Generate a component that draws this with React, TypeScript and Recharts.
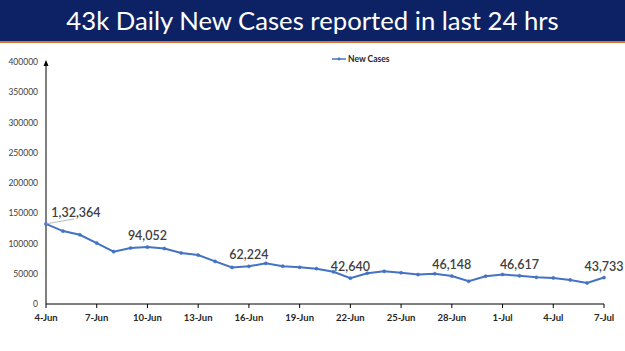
import React from 'react';
import { LineChart, Line, XAxis, YAxis, Legend, LabelList } from 'recharts';

const dates = [
  '4-Jun', '5-Jun', '6-Jun', '7-Jun', '8-Jun', '9-Jun', '10-Jun', '11-Jun', '12-Jun',
  '13-Jun', '14-Jun', '15-Jun', '16-Jun', '17-Jun', '18-Jun', '19-Jun', '20-Jun',
  '21-Jun', '22-Jun', '23-Jun', '24-Jun', '25-Jun', '26-Jun', '27-Jun', '28-Jun',
  '29-Jun', '30-Jun', '1-Jul', '2-Jul', '3-Jul', '4-Jul', '5-Jul', '6-Jul', '7-Jul',
];

const newCases = [
  132364, 120529, 114460, 100636, 86498, 92596, 94052, 91702, 84332,
  80834, 70421, 60471, 62224, 67208, 62480, 60753, 58419,
  53256, 42640, 50848, 54069, 51667, 48698, 50040, 46148,
  37566, 45951, 48786, 46617, 44111, 43071, 39796, 34703, 43733,
];

const labelledDates = ['4-Jun', '10-Jun', '16-Jun', '22-Jun', '28-Jun', '2-Jul', '7-Jul'];

const yTicks = [0, 50000, 100000, 150000, 200000, 250000, 300000, 350000, 400000];

const data = dates.map((date, i) => ({ date, cases: newCases[i] }));

const BLUE = '#4472C4';

// indian digit grouping, e.g. 1,32,364
function formatIN(v: number) {
  const s = String(v);
  if (s.length <= 3) return s;
  const last3 = s.slice(-3);
  const rest = s.slice(0, -3).replace(/\B(?=(\d{2})+(?!\d))/g, ',');
  return rest + ',' + last3;
}

function CaseLabel(props: any) {
  const { x, y, index } = props;
  const d = data[index];
  if (!d || !labelledDates.includes(d.date)) return null;
  const text = formatIN(d.cases);
  const style = { fontSize: 12.5, fontWeight: 600, fill: '#404040', fontFamily: 'Lato, sans-serif' };
  if (index === 0) {
    return (
      <g>
        <line x1={x} y1={y} x2={x + 28} y2={y - 5} stroke="#a6a6a6" strokeWidth={0.8} />
        <text x={x + 30} y={y - 7} textAnchor="middle" {...style}>
          {text}
        </text>
      </g>
    );
  }
  return (
    <text x={x} y={y - 7} textAnchor="middle" {...style}>
      {text}
    </text>
  );
}

function LegendContent(props: any) {
  const item = props.payload?.[0];
  return (
    <div style={{ display: 'flex', alignItems: 'center', fontFamily: 'Lato, sans-serif', fontSize: 8.5, fontWeight: 700, color: '#262626' }}>
      <svg width={16} height={6} style={{ marginRight: 1 }}>
        <line x1={1} y1={3} x2={15} y2={3} stroke={BLUE} strokeWidth={1.5} />
        <circle cx={8} cy={3} r={1.4} fill={BLUE} />
      </svg>
      {item ? item.value : 'New Cases'}
    </div>
  );
}

export default function App() {
  return (
    <div style={{ position: 'absolute', left: 0, top: 0, width: 625, height: 351, background: '#fff', overflow: 'hidden' }}>
      <div
        style={{
          position: 'absolute', left: 0, top: 0, width: 625, height: 41,
          background: '#0d2265', borderBottom: '2px solid #d9713a',
          color: '#fff', fontFamily: 'Lato, sans-serif', fontSize: 25.7,
          lineHeight: '40px', textAlign: 'center',
        }}
      >
        43k Daily New Cases reported in last 24 hrs
      </div>
      <svg style={{ position: 'absolute', left: 0, top: 0 }} width={625} height={351}>
        <path d="M43.5,66 L46,60 L48.5,66 Z" fill="#000" />
      </svg>
      <div style={{ position: 'absolute', left: 0, top: 0 }}>
        <LineChart width={625} height={351} data={data} margin={{ top: 62, right: 21, bottom: 17, left: 0 }}>
          <XAxis
            dataKey="date"
            interval={2}
            axisLine={{ stroke: '#000', strokeWidth: 1 }}
            tickLine={{ stroke: '#000' }}
            tickSize={4}
            tickMargin={6}
            height={30}
            tick={{ fontSize: 9.5, fontWeight: 700, fill: '#262626', fontFamily: 'Lato, sans-serif' }}
          />
          <YAxis
            domain={[0, 400000]}
            ticks={yTicks}
            width={46}
            axisLine={{ stroke: '#000', strokeWidth: 1 }}
            tickLine={false}
            tick={{ fontSize: 8.5, fill: '#404040', fontFamily: 'Lato, sans-serif' }}
          />
          <Legend
            layout="vertical"
            align="center"
            verticalAlign="middle"
            wrapperStyle={{ top: 54, left: 331, width: 'auto' }}
            content={<LegendContent />}
          />
          <Line
            type="linear"
            dataKey="cases"
            name="New Cases"
            stroke={BLUE}
            strokeWidth={2}
            dot={{ r: 1.6, fill: BLUE, stroke: BLUE, strokeWidth: 0.5 }}
            activeDot={false}
            isAnimationActive={false}
          >
            <LabelList dataKey="cases" content={<CaseLabel />} />
          </Line>
        </LineChart>
      </div>
    </div>
  );
}
